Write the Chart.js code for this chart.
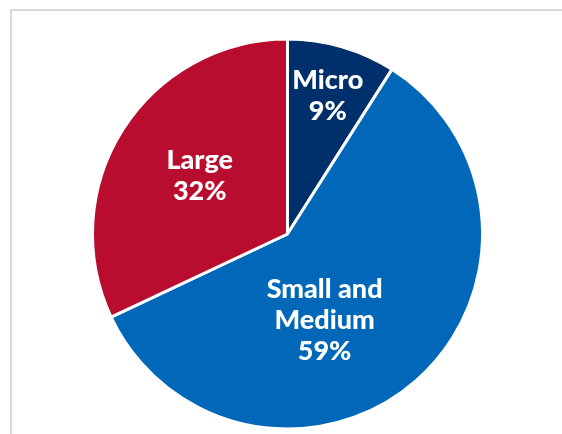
<!DOCTYPE html>
<html>
<head>
<meta charset="utf-8">
<script src="https://cdn.jsdelivr.net/npm/chart.js@4.4.1/dist/chart.umd.min.js"></script>
<style>
  html, body { margin: 0; padding: 0; background: #fff; }
  #wrap { position: relative; width: 562px; height: 434px; overflow: hidden; }
  #frame { position: absolute; left: 10px; top: 9px; width: 600px; height: 500px;
           border-left: 2px solid #d9d9d9; border-top: 2px solid #d9d9d9; }
  canvas { position: absolute; left: 0; top: 0; }
</style>
</head>
<body>
<div id="wrap">
  <div id="frame"></div>
  <canvas id="c" width="562" height="434"></canvas>
</div>
<script>
// Share of firms by size class (percent)
const categories = ['Micro', 'Small and Medium', 'Large'];
const shares = [9, 59, 32];
const labelLines = [['Micro', '9%'], ['Small and', 'Medium', '59%'], ['Large', '32%']];
const colors = ['#00306b', '#0067b9', '#b80d2f'];

// where each label sits inside its slice: fraction of the slice's sweep, fraction of radius
const labelPlacement = [
  { along: 0.5, radius: 0.74 },
  { along: 0.585, radius: 0.48 },
  { along: 0.51, radius: 0.54 }
];

const sliceLabels = {
  id: 'sliceLabels',
  afterDatasetsDraw(chart) {
    const ctx = chart.ctx;
    const meta = chart.getDatasetMeta(0);
    ctx.save();
    ctx.fillStyle = '#ffffff';
    ctx.font = '900 27px Lato, "Open Sans", sans-serif';
    ctx.textAlign = 'center';
    ctx.textBaseline = 'middle';
    const lh = 31;
    meta.data.forEach((arc, i) => {
      const p = arc.getProps(['x', 'y', 'startAngle', 'endAngle', 'outerRadius'], true);
      const place = labelPlacement[i];
      const a = p.startAngle + (p.endAngle - p.startAngle) * place.along;
      const r = p.outerRadius * place.radius;
      const cx = p.x + Math.cos(a) * r;
      const cy = p.y + Math.sin(a) * r;
      const lines = labelLines[i];
      const y0 = cy - (lines.length - 1) * lh / 2;
      lines.forEach((t, k) => ctx.fillText(t, cx, y0 + k * lh));
    });
    ctx.restore();
  }
};

new Chart(document.getElementById('c'), {
  type: 'pie',
  data: {
    labels: categories,
    datasets: [{
      data: shares,
      backgroundColor: colors,
      borderColor: '#ffffff',
      borderWidth: 3
    }]
  },
  options: {
    responsive: false,
    animation: false,
    radius: 195,
    layout: { padding: { left: 13, right: 0, top: 34, bottom: 0 } },
    plugins: {
      legend: { display: false },
      tooltip: { enabled: false }
    }
  },
  plugins: [sliceLabels]
});
</script>
</body>
</html>
